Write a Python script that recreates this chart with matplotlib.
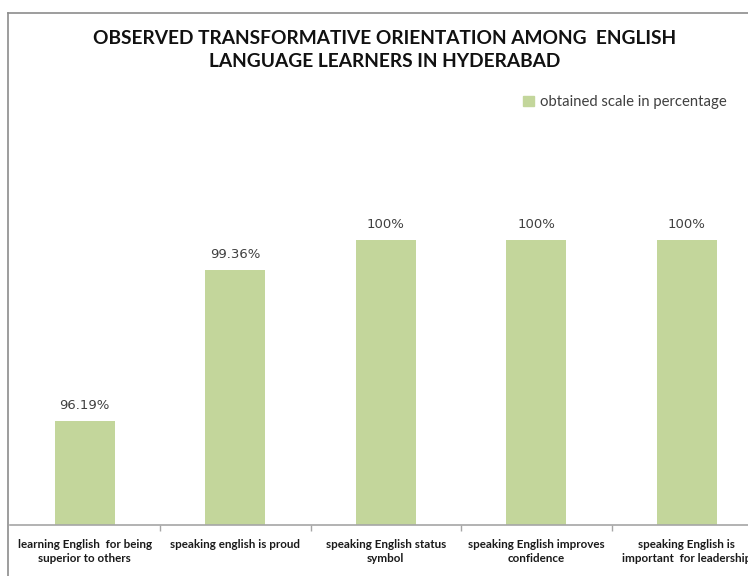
import matplotlib.pyplot as plt
from matplotlib.lines import Line2D
from matplotlib.patches import Patch

categories = ["learning English  for being\nsuperior to others",
              "speaking english is proud",
              "speaking English status\nsymbol",
              "speaking English improves\nconfidence",
              "speaking English is\nimportant  for leadership"]
values = [96.19, 99.36, 100, 100, 100]
labels = ["96.19%", "99.36%", "100%", "100%", "100%"]
series_name = "obtained scale in percentage"

bar_color = "#c3d69b"
axis_color = "#a6a6a6"

fig = plt.figure(figsize=(7.48, 5.76), dpi=100)

# plot area runs off the right edge like in the original screenshot
ax = fig.add_axes([9.5 / 748, 1 - 525 / 576, (762 - 9.5) / 748, (525 - 192) / 576])
x = list(range(len(values)))
ax.bar(x, [v - 94 for v in values], bottom=94, width=0.4, color=bar_color)
ax.set_ylim(94, 101)
ax.set_xlim(-0.5, len(values) - 0.5)

for xi, v, lab in zip(x, values, labels):
    ax.text(xi, v + 0.18, lab, ha="center", va="bottom", fontsize=9.5,
            color="#404040", family="DejaVu Sans")

for s in ["top", "right", "left"]:
    ax.spines[s].set_visible(False)
ax.spines["bottom"].set_color(axis_color)
ax.spines["bottom"].set_linewidth(1.2)
ax.set_yticks([])
ax.set_xticks([i + 0.5 for i in x[:-1]], minor=False)
ax.set_xticklabels([])
ax.tick_params(axis="x", length=4, color=axis_color, direction="out", width=1)
for xi, cat in zip(x, categories):
    ax.text(xi, 93.7, cat, ha="center", va="top", fontsize=8.4,
            fontweight="bold", family="Lato", color="#1a1a1a",
            linespacing=1.35)

# chart border (left and top)
fig.add_artist(Line2D([8 / 748, 8 / 748], [0, 1 - 13 / 576], color="#8c8c8c", lw=1.2))
fig.add_artist(Line2D([8 / 748, 1], [1 - 13 / 576, 1 - 13 / 576], color="#8c8c8c", lw=1.2))

fig.text(385 / 748, 1 - 50 / 576,
         "OBSERVED TRANSFORMATIVE ORIENTATION AMONG  ENGLISH\nLANGUAGE LEARNERS IN HYDERABAD",
         ha="center", va="center", fontsize=13.8, fontweight="bold", family="Lato",
         color="#111111", linespacing=1.4)

fig.legend(handles=[Patch(color=bar_color, label=series_name)],
           loc="center left", bbox_to_anchor=(510 / 748, 1 - 102 / 576),
           frameon=False, handlelength=0.7, handleheight=0.7,
           handletextpad=0.45, labelcolor="#404040", prop={"family": "Lato", "size": 10.7})

fig.savefig("out.png", dpi=100)
